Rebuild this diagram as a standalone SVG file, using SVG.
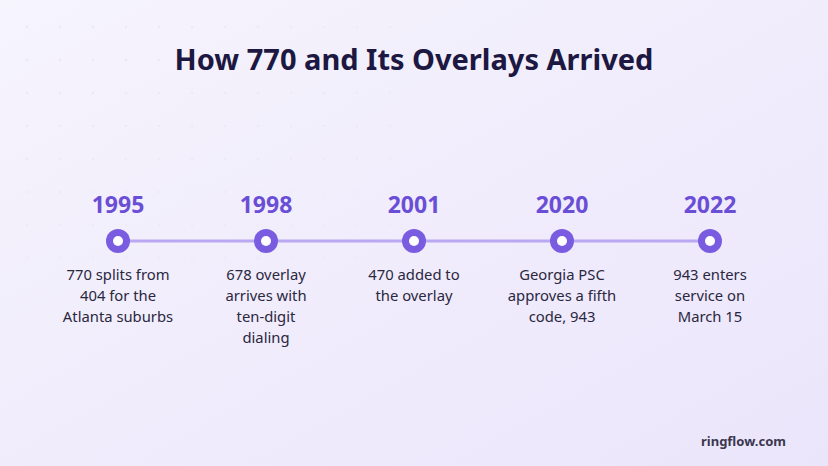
<svg xmlns="http://www.w3.org/2000/svg" width="828" height="466" viewBox="0 0 828 466">
<defs>
<linearGradient id="bg" x1="0" y1="0" x2="1" y2="1">
<stop offset="0" stop-color="#f6f4fd"/>
<stop offset="1" stop-color="#ebe5fb"/>
</linearGradient>
<pattern id="dots" x="0" y="0" width="33" height="33" patternUnits="userSpaceOnUse">
<circle cx="27" cy="27" r="1.3" fill="#dfd9f2"/>
</pattern>
<radialGradient id="fade" cx="0" cy="0" r="1">
<stop offset="0" stop-color="#fff" stop-opacity="1"/>
<stop offset="1" stop-color="#fff" stop-opacity="0"/>
</radialGradient>
<mask id="m"><rect width="828" height="466" fill="url(#fade)"/></mask>
</defs>
<style>
.title{font-family:"Noto Sans","Open Sans",sans-serif;font-weight:700;font-size:29px;fill:#1c1842;text-anchor:middle}
.year{font-family:"Noto Sans","Open Sans",sans-serif;font-weight:700;font-size:23px;fill:#6a4fd6;text-anchor:middle}
.desc{font-family:"Noto Sans","Open Sans",sans-serif;font-size:14.8px;fill:#2a2740;text-anchor:middle}
.foot{font-family:"Noto Sans","Open Sans",sans-serif;font-weight:700;font-size:13px;fill:#3a374f;text-anchor:end}
.dot{fill:#7a5ce0}
.hole{fill:#ffffff}
</style>
<rect width="828" height="466" fill="url(#bg)"/>
<rect width="420" height="260" fill="url(#dots)" mask="url(#m)" opacity="0.5"/>
<text class="title" x="414" y="70">How 770 and Its Overlays Arrived</text>
<g id="connectors">
<line x1="118" y1="241" x2="710" y2="241" stroke="#bba8f2" stroke-width="3"/>
</g>
<g id="e1995">
<text class="year" x="118" y="213">1995</text>
<circle class="dot" cx="118" cy="241" r="12"/><circle class="hole" cx="118" cy="241" r="5"/>
<text class="desc" x="118" y="280">770 splits from</text>
<text class="desc" x="118" y="301">404 for the</text>
<text class="desc" x="118" y="322">Atlanta suburbs</text>
</g>
<g id="e1998">
<text class="year" x="266" y="213">1998</text>
<circle class="dot" cx="266" cy="241" r="12"/><circle class="hole" cx="266" cy="241" r="5"/>
<text class="desc" x="266" y="280">678 overlay</text>
<text class="desc" x="266" y="301">arrives with</text>
<text class="desc" x="266" y="322">ten-digit</text>
<text class="desc" x="266" y="343">dialing</text>
</g>
<g id="e2001">
<text class="year" x="414" y="213">2001</text>
<circle class="dot" cx="414" cy="241" r="12"/><circle class="hole" cx="414" cy="241" r="5"/>
<text class="desc" x="414" y="280">470 added to</text>
<text class="desc" x="414" y="301">the overlay</text>
</g>
<g id="e2020">
<text class="year" x="562" y="213">2020</text>
<circle class="dot" cx="562" cy="241" r="12"/><circle class="hole" cx="562" cy="241" r="5"/>
<text class="desc" x="562" y="280">Georgia PSC</text>
<text class="desc" x="562" y="301">approves a fifth</text>
<text class="desc" x="562" y="322">code, 943</text>
</g>
<g id="e2022">
<text class="year" x="710" y="213">2022</text>
<circle class="dot" cx="710" cy="241" r="12"/><circle class="hole" cx="710" cy="241" r="5"/>
<text class="desc" x="710" y="280">943 enters</text>
<text class="desc" x="710" y="301">service on</text>
<text class="desc" x="710" y="322">March 15</text>
</g>
<text class="foot" x="786" y="446">ringflow.com</text>
</svg>
